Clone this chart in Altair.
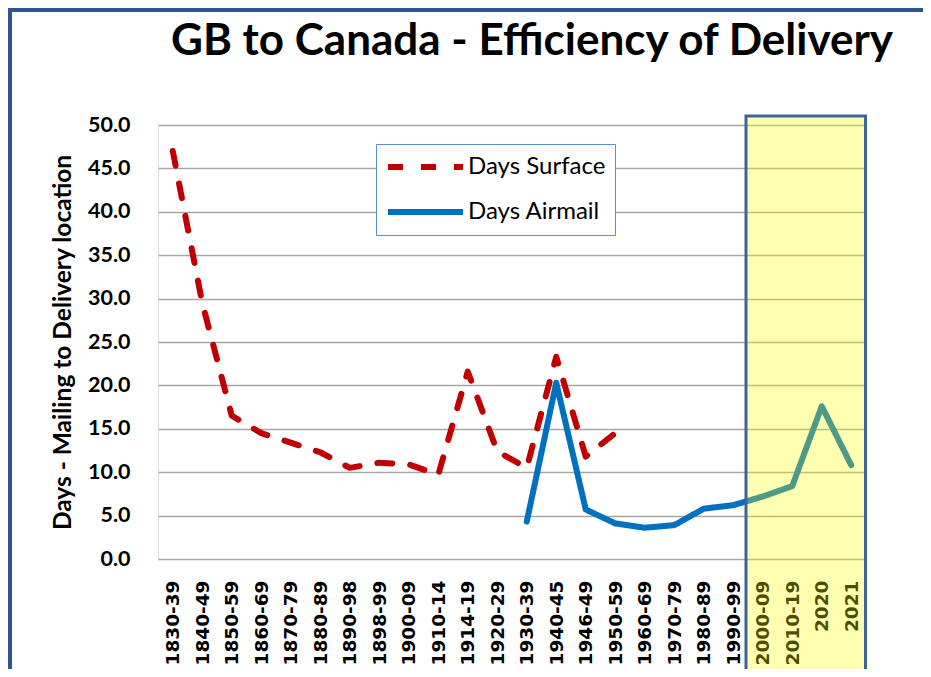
import altair as alt
import pandas as pd

categories = ["1830-39", "1840-49", "1850-59", "1860-69", "1870-79", "1880-89",
              "1890-98", "1898-99", "1900-09", "1910-14", "1914-19", "1920-29",
              "1930-39", "1940-45", "1946-49", "1950-59", "1960-69", "1970-79",
              "1980-89", "1990-99", "2000-09", "2010-19", "2020", "2021"]

surface_days = [47.0, 29.5, 16.5, 14.5, 13.4, 12.3, 10.5, 11.1, 10.9, 9.7, 21.6, 12.4,
                10.5, 23.3, 11.8, 14.5, None, None, None, None, None, None, None, None]

airmail_days = [None, None, None, None, None, None, None, None, None, None, None, None,
                4.3, 20.3, 5.7, 4.1, 3.6, 3.9, 5.8, 6.2, 7.2, 8.4, 17.6, 10.8]

series_names = ["Days Surface", "Days Airmail"]
series_colors = ["#C00000", "#0070C0"]
series_dash = [[15, 18], [1, 0]]

title_text = "GB to Canada - Efficiency of Delivery"
y_title = "Days - Mailing to Delivery location"

rows = []
for name, vals in zip(series_names, [surface_days, airmail_days]):
    for c, v in zip(categories, vals):
        if v is not None:
            rows.append({"period": c, "days": v, "series": name})
df = pd.DataFrame(rows)

W, H = 708, 434

lines = alt.Chart(df).mark_line(strokeWidth=6, strokeCap="round", strokeJoin="round").encode(
    x=alt.X("period:N", sort=categories,
            scale=alt.Scale(domain=categories, padding=0.5),
            axis=alt.Axis(title=None, labelAngle=-90, labelFont="DejaVu Sans",
                          labelFontWeight="bold", labelFontSize=18.5, labelColor="#000000",
                          labelPadding=21, ticks=False, domain=False, grid=False)),
    y=alt.Y("days:Q", scale=alt.Scale(domain=[0, 50], nice=False, zero=True),
            axis=alt.Axis(title=y_title, values=list(range(0, 51, 5)), format=".1f",
                          labelFont="Lato", labelFontWeight="bold", labelFontSize=21.5,
                          labelColor="#000000", labelPadding=28, ticks=False, domain=False,
                          grid=True, gridColor="#A6A6A6", gridWidth=1.5,
                          titleFont="Lato", titleFontWeight="bold", titleFontSize=24.5,
                          titleColor="#000000", titleX=-95, titleY=H / 2, titleAngle=270,
                          titleAlign="center", titleBaseline="middle")),
    color=alt.Color("series:N", scale=alt.Scale(domain=series_names, range=series_colors),
                    sort=series_names,
                    legend=alt.Legend(title=None, orient="none", legendX=218, legendY=19,
                                      symbolType="stroke", symbolSize=5625,
                                      symbolStrokeWidth=6, labelFont="Lato",
                                      labelFontSize=24, labelColor="#000000",
                                      labelOffset=2, padding=9, rowPadding=17,
                                      clipHeight=28, symbolDash=[24, 10],
                                      strokeColor="#5B8BD0", fillColor="#FFFFFF")),
    strokeDash=alt.StrokeDash("series:N", scale=alt.Scale(domain=series_names, range=series_dash),
                              sort=series_names, legend=alt.Legend(title=None)),
)

one = pd.DataFrame({"k": [0]})

highlight = alt.Chart(one).mark_rect(fill="#FFFF00", fillOpacity=0.3, stroke="#3E659A",
                                     strokeWidth=3).encode(
    x=alt.value(588), x2=alt.value(707.5), y=alt.value(-9), y2=alt.value(560))

frame_top = alt.Chart(one).mark_rule(stroke="#2F5590", strokeWidth=4).encode(
    x=alt.value(-150), x2=alt.value(765), y=alt.value(-115))
frame_left = alt.Chart(one).mark_rule(stroke="#2F5590", strokeWidth=4).encode(
    x=alt.value(-148), y=alt.value(-117), y2=alt.value(560))

title = alt.Chart(one).mark_text(text=title_text, font="Lato", fontWeight="bold", fontSize=44,
                                 align="center", baseline="alphabetic", color="#000000").encode(
    x=alt.value(374), y=alt.value(-70))

chart = alt.layer(lines, highlight, frame_top, frame_left, title).properties(
    width=W, height=H,
    autosize=alt.AutoSizeParams(type="none"),
    padding={"left": 150, "top": 117, "right": 57, "bottom": 110},
).configure_view(stroke="#A0A0A0", strokeWidth=2).configure(background="#FFFFFF")

chart.save("out.html", embed_options={"renderer": "svg", "actions": False})
